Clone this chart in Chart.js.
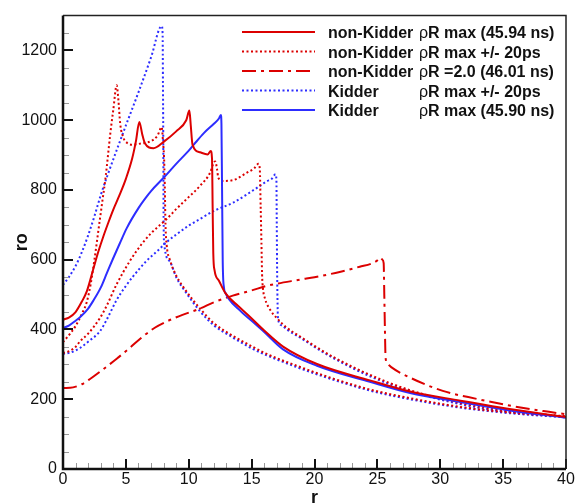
<!DOCTYPE html>
<html>
<head>
<meta charset="utf-8">
<script src="https://cdn.jsdelivr.net/npm/chart.js@4.4.1/dist/chart.umd.min.js"></script>
<style>
  html, body { margin: 0; padding: 0; background: #fff; }
  canvas { display: block; }
</style>
</head>
<body>
<canvas id="chart" width="580" height="503"></canvas>
<script>
// axis ticks
const xTicks = [0, 5, 10, 15, 20, 25, 30, 35, 40];
const yTicks = [0, 200, 400, 600, 800, 1000, 1200];

// non-Kidder rhoR max (45.94 ns)
const nkMaxX = [0, 0.5, 1, 1.5, 1.9, 2.4, 2.8, 3.2, 3.6, 4.0, 4.5, 5.0, 5.5, 5.8, 6.07, 6.3, 6.5, 7.2, 8.0, 9.0, 9.8, 10.05, 10.15, 10.3, 10.9, 11.5, 11.75, 11.85, 11.9, 11.95, 12.05, 12.4, 12.9, 14.0, 14.9, 16, 17.5, 20.2, 24.4, 27.6, 31.6, 35.5, 40];
const nkMaxY = [428, 435, 450, 480, 510, 572, 622, 666, 706, 744, 786, 832, 890, 940, 995, 960, 935, 920, 938, 968, 1000, 1028, 990, 930, 908, 902, 912, 890, 750, 620, 570, 540, 505, 465, 435, 397, 351, 301, 254, 222, 196, 172, 149];

// Kidder rhoR max (45.90 ns)
const kMaxX = [0, 0.5, 1, 1.35, 2, 2.4, 3, 3.47, 4, 4.53, 5.06, 6, 6.65, 7, 8, 9, 10, 10.4, 11.2, 12, 12.4, 12.55, 12.6, 12.65, 12.7, 12.8, 12.9, 14, 15, 16, 17.5, 20.2, 24.4, 27.6, 31.6, 35.5, 40];
const kMaxY = [404, 412, 425, 435, 460, 482, 520, 560, 605, 648, 690, 748, 781, 797, 835, 875, 913, 930, 963, 990, 1005, 1015, 990, 800, 600, 520, 506, 457, 425, 393, 343, 296, 250, 218, 192, 168, 147];

// non-Kidder rhoR = 2.0 (46.01 ns)
const nkRho2X = [0, 0.8, 1.5, 2.15, 3.2, 4.27, 5.33, 6.39, 7.3, 8.25, 9.5, 10.9, 12, 13.5, 15, 16.2, 18.85, 20, 22, 23.6, 24.6, 25, 25.26, 25.4, 25.5, 25.55, 25.6, 25.65, 25.8, 26.1, 27.6, 30.2, 32.9, 35.5, 38.2, 40];
const nkRho2Y = [232, 234, 243, 258, 286, 316, 348, 381, 405, 423, 442, 460, 478, 497, 512, 525, 543, 550, 565, 580, 590, 598, 606, 600, 590, 500, 400, 320, 302, 292, 262, 224, 201, 182, 166, 157];

// non-Kidder rhoR max +/- 20ps (two profiles)
const nkEarlyX = [0, 0.5, 1, 1.5, 1.9, 2.2, 2.5, 2.8, 3.1, 3.4, 3.75, 4.0, 4.27, 4.4, 4.55, 4.8, 5.1, 5.5, 6, 6.5, 7, 7.5, 7.85, 7.95, 8.05, 8.1, 8.15, 8.25, 8.5, 9, 9.8, 10.9, 12, 13.5, 15, 16.2, 18.9, 21.5, 24.4, 27.6, 31.6, 35.5, 40];
const nkEarlyY = [364, 385, 410, 445, 480, 530, 600, 680, 760, 840, 958, 1030, 1100, 1060, 990, 950, 935, 930, 932, 935, 940, 955, 980, 940, 880, 800, 700, 640, 600, 555, 510, 460, 418, 382, 352, 330, 292, 259, 228, 203, 178, 162, 150];
const nkLateX = [0, 0.5, 1, 1.35, 2, 2.94, 3.5, 4.27, 5.33, 6.26, 7, 8.25, 9, 9.83, 10.9, 11.7, 11.95, 12.1, 12.25, 12.35, 12.75, 13.5, 14.6, 15.2, 15.55, 15.65, 15.72, 15.78, 15.83, 15.9, 16.06, 16.5, 17, 17.8, 18.85, 20, 21.5, 24.4, 27.6, 31.6, 35.5, 40];
const nkLateY = [333, 338, 350, 366, 388, 433, 470, 530, 597, 645, 676, 717, 745, 774, 812, 850, 875, 882, 860, 835, 826, 828, 849, 862, 875, 860, 750, 650, 560, 518, 489, 455, 433, 405, 380, 353, 321, 270, 226, 189, 166, 151];

// Kidder rhoR max +/- 20ps (two profiles)
const kEarlyX = [0, 0.5, 1, 1.5, 2, 2.5, 3, 3.5, 4, 5, 6, 7, 7.85, 7.92, 7.95, 7.98, 8.0, 8.05, 8.5, 9, 9.8, 10.9, 12, 13.5, 15, 16.2, 18.9, 21.5, 24.4, 27.6, 31.6, 35.5, 40];
const kEarlyY = [528, 552, 582, 622, 670, 725, 785, 838, 888, 985, 1080, 1180, 1270, 1250, 1100, 900, 720, 645, 595, 550, 505, 452, 412, 377, 346, 326, 288, 256, 225, 200, 176, 160, 148];
const kLateX = [0, 0.5, 1, 1.35, 2, 2.94, 3.5, 4.27, 5, 5.59, 6.65, 7.71, 8.25, 9, 10, 10.9, 12, 13.54, 15.67, 16.2, 16.6, 16.9, 16.97, 17.0, 17.03, 17.1, 17.4, 17.8, 18.85, 20, 21.5, 24.4, 27.6, 31.6, 35.5, 40];
const kLateY = [330, 333, 340, 347, 365, 395, 430, 485, 525, 553, 597, 632, 651, 672, 698, 717, 740, 764, 812, 825, 832, 845, 830, 700, 560, 430, 412, 400, 377, 350, 318, 266, 223, 186, 163, 150];

// legend rows: dataset index, first column, second column (after the rho)
const legendIndex = [0, 3, 2, 5, 1];
const legendNames = ['non-Kidder', 'non-Kidder', 'non-Kidder', 'Kidder', 'Kidder'];
const legendText = ['R max (45.94 ns)', 'R max +/- 20ps', 'R =2.0 (46.01 ns)', 'R max +/- 20ps', 'R max (45.90 ns)'];

const RED = 'rgb(220,0,0)';
const BLUE = 'rgb(45,45,255)';
const DOT = [2, 2.5];
const DASH_DOT = [14, 5, 3, 5];
const FONT = "'Liberation Sans', Arial, sans-serif";

function toPoints(xs, ys) {
    return xs.map((x, i) => ({ x: x, y: ys[i] }));
}

function line(data, color, dash) {
    return { data: data, borderColor: color, borderDash: dash, borderWidth: 2, fill: false };
}

// inward tick marks and the frame round the plot
const framePlugin = {
    id: 'frame',
    afterDraw(chart) {
        const { ctx, chartArea: a, scales } = chart;
        const sx = scales.x, sy = scales.y;
        ctx.save();

        ctx.strokeStyle = '#999';
        ctx.lineWidth = 1;
        ctx.beginPath();
        for (let v = 50; v < 1300; v += 50) {
            if (v % 200 === 0) continue;
            const py = Math.round(sy.getPixelForValue(v)) + 0.5;
            ctx.moveTo(a.left, py);
            ctx.lineTo(a.left + 6, py);
        }
        for (let v = 1; v < 40; v++) {
            if (v % 5 === 0) continue;
            const px = Math.round(sx.getPixelForValue(v)) + 0.5;
            ctx.moveTo(px, a.bottom);
            ctx.lineTo(px, a.bottom - 6);
        }
        ctx.stroke();

        ctx.strokeStyle = '#111';
        ctx.lineWidth = 2;
        ctx.beginPath();
        yTicks.forEach(v => {
            const py = Math.round(sy.getPixelForValue(v));
            ctx.moveTo(a.left, py);
            ctx.lineTo(a.left + 10, py);
        });
        xTicks.forEach(v => {
            const px = Math.round(sx.getPixelForValue(v));
            ctx.moveTo(px, a.bottom);
            ctx.lineTo(px, a.bottom - 10);
        });
        ctx.stroke();

        // top and right
        ctx.lineWidth = 1.5;
        ctx.strokeStyle = '#222';
        ctx.beginPath();
        ctx.moveTo(a.left, a.top);
        ctx.lineTo(a.right, a.top);
        ctx.lineTo(a.right, a.bottom);
        ctx.stroke();

        // left and bottom axes
        ctx.lineWidth = 2.5;
        ctx.strokeStyle = '#111';
        ctx.beginPath();
        ctx.moveTo(a.left, a.top);
        ctx.lineTo(a.left, a.bottom);
        ctx.lineTo(a.right, a.bottom);
        ctx.stroke();
        ctx.restore();
    }
};

// legend inside the plot, two text columns
const legendPlugin = {
    id: 'sideLegend',
    afterDraw(chart) {
        const ctx = chart.ctx;
        ctx.save();
        legendIndex.forEach((di, i) => {
            const ds = chart.data.datasets[di];
            const yMid = 32 + i * 19.5;
            ctx.strokeStyle = ds.borderColor;
            ctx.lineWidth = 2;
            ctx.setLineDash(ds.borderDash || []);
            ctx.beginPath();
            ctx.moveTo(242, yMid);
            ctx.lineTo(315, yMid);
            ctx.stroke();
            ctx.setLineDash([]);

            const base = yMid + 6;
            ctx.fillStyle = '#111';
            ctx.textBaseline = 'alphabetic';
            ctx.textAlign = 'left';
            ctx.font = 'bold 16px ' + FONT;
            ctx.fillText(legendNames[i], 328, base);
            ctx.font = '16px ' + FONT;
            ctx.fillText('\u03C1', 419, base);
            const w = ctx.measureText('\u03C1').width;
            ctx.font = 'bold 16px ' + FONT;
            ctx.fillText(legendText[i], 419 + w, base);
        });
        ctx.restore();
    }
};

new Chart(document.getElementById('chart'), {
    type: 'line',
    data: {
        datasets: [
            line(toPoints(nkMaxX, nkMaxY), RED, []),
            line(toPoints(kMaxX, kMaxY), BLUE, []),
            line(toPoints(nkRho2X, nkRho2Y), RED, DASH_DOT),
            line(toPoints(nkEarlyX, nkEarlyY), RED, DOT),
            line(toPoints(nkLateX, nkLateY), RED, DOT),
            line(toPoints(kEarlyX, kEarlyY), BLUE, DOT),
            line(toPoints(kLateX, kLateY), BLUE, DOT)
        ]
    },
    options: {
        responsive: false,
        animation: false,
        layout: { padding: { top: 10, right: 14, bottom: 0, left: 0 } },
        elements: {
            point: { radius: 0 },
            line: { cubicInterpolationMode: 'monotone' }
        },
        plugins: {
            legend: { display: false },
            tooltip: { enabled: false }
        },
        scales: {
            x: {
                type: 'linear',
                min: 0,
                max: 40,
                grid: { display: false, drawTicks: false },
                border: { display: false },
                afterBuildTicks: s => { s.ticks = xTicks.map(v => ({ value: v })); },
                afterFit: s => { s.height = 34; },
                ticks: {
                    autoSkip: false,
                    maxRotation: 0,
                    padding: 1,
                    color: '#111',
                    font: { family: FONT, size: 16 },
                    callback: v => String(v)
                },
                title: {
                    display: true,
                    text: 'r',
                    color: '#111',
                    font: { family: FONT, size: 18, weight: 'bold' },
                    padding: { top: 0, bottom: -6 }
                }
            },
            y: {
                type: 'linear',
                min: 0,
                max: 1300,
                grid: { display: false, drawTicks: false },
                border: { display: false },
                afterBuildTicks: s => { s.ticks = yTicks.map(v => ({ value: v })); },
                afterFit: s => { s.width = 63; },
                ticks: {
                    padding: 6,
                    color: '#111',
                    font: { family: FONT, size: 16 },
                    callback: v => String(v)
                },
                title: {
                    display: true,
                    text: 'ro',
                    color: '#111',
                    font: { family: FONT, size: 18, weight: 'bold' },
                    padding: { top: 11, bottom: 0 }
                }
            }
        }
    },
    plugins: [framePlugin, legendPlugin]
});
</script>
</body>
</html>
